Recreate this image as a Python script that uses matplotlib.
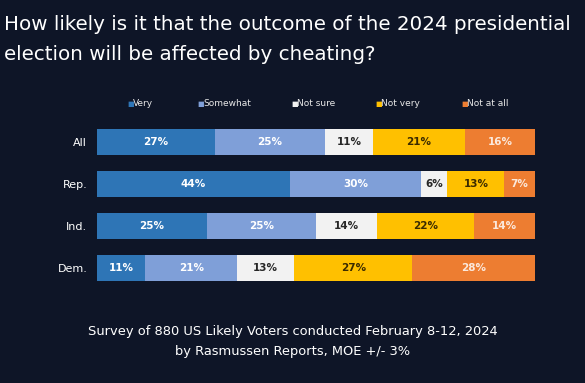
import matplotlib.pyplot as plt
import numpy as np

groups = ["All", "Rep.", "Ind.", "Dem."]
answers = ["Very", "Somewhat", "Not sure", "Not very", "Not at all"]
very = [27, 44, 25, 11]
somewhat = [25, 30, 25, 21]
not_sure = [11, 6, 14, 13]
not_very = [21, 13, 22, 27]
not_at_all = [16, 7, 14, 28]

colors = ["#2e75b6", "#7f9fd8", "#f2f2f2", "#ffc000", "#ed7d31"]
text_colors = ["white", "white", "#262626", "#3a2a00", "#fbe9dc"]
bg = "#0e1527"

fig = plt.figure(figsize=(5.85, 3.83), dpi=100, facecolor=bg)
ax = fig.add_axes([97 / 585, 1 - 289 / 383, 438 / 585, 168 / 383])
ax.set_facecolor(bg)

series = [very, somewhat, not_sure, not_very, not_at_all]
y = np.arange(len(groups))
left = np.zeros(len(groups))
for vals, c, tc, name in zip(series, colors, text_colors, answers):
    vals = np.array(vals)
    ax.barh(y, vals, left=left, height=0.6, color=c, edgecolor="none", label=name)
    for yi, l, v in zip(y, left, vals):
        ax.text(l + v / 2, yi, f"{v}%", ha="center", va="center",
                color=tc, fontsize=7.5, fontweight="bold")
    left += vals

ax.set_xlim(0, 100)
ax.set_ylim(3.5, -0.5)
ax.set_xticks([])
ax.set_yticks(y)
ax.set_yticklabels(groups, color="white", fontsize=8)
ax.tick_params(axis="y", length=0, pad=7)
for s in ax.spines.values():
    s.set_visible(False)

# legend
leg_x = [127, 197, 291, 375, 461]
for lx, c, name in zip(leg_x, colors, answers):
    fig.text(lx / 585, 1 - 104 / 383, "\u25a0", color=c, fontsize=5, va="center", ha="left")
    fig.text((lx + 6) / 585, 1 - 104 / 383, name, color="#e8e8e8", fontsize=6.5,
             va="center", ha="left")

fig.text(4 / 585, 1 - 25 / 383, "How likely is it that the outcome of the 2024 presidential",
         color="white", fontsize=14.3, va="center", ha="left")
fig.text(4 / 585, 1 - 55 / 383, "election will be affected by cheating?",
         color="white", fontsize=14.3, va="center", ha="left")

fig.text(0.5, 1 - 331 / 383, "Survey of 880 US Likely Voters conducted February 8-12, 2024",
         color="white", fontsize=9.4, ha="center", va="center")
fig.text(0.5, 1 - 351 / 383, "by Rasmussen Reports, MOE +/- 3%",
         color="white", fontsize=9.4, ha="center", va="center")

fig.savefig("out.png", dpi=100, facecolor=bg)
